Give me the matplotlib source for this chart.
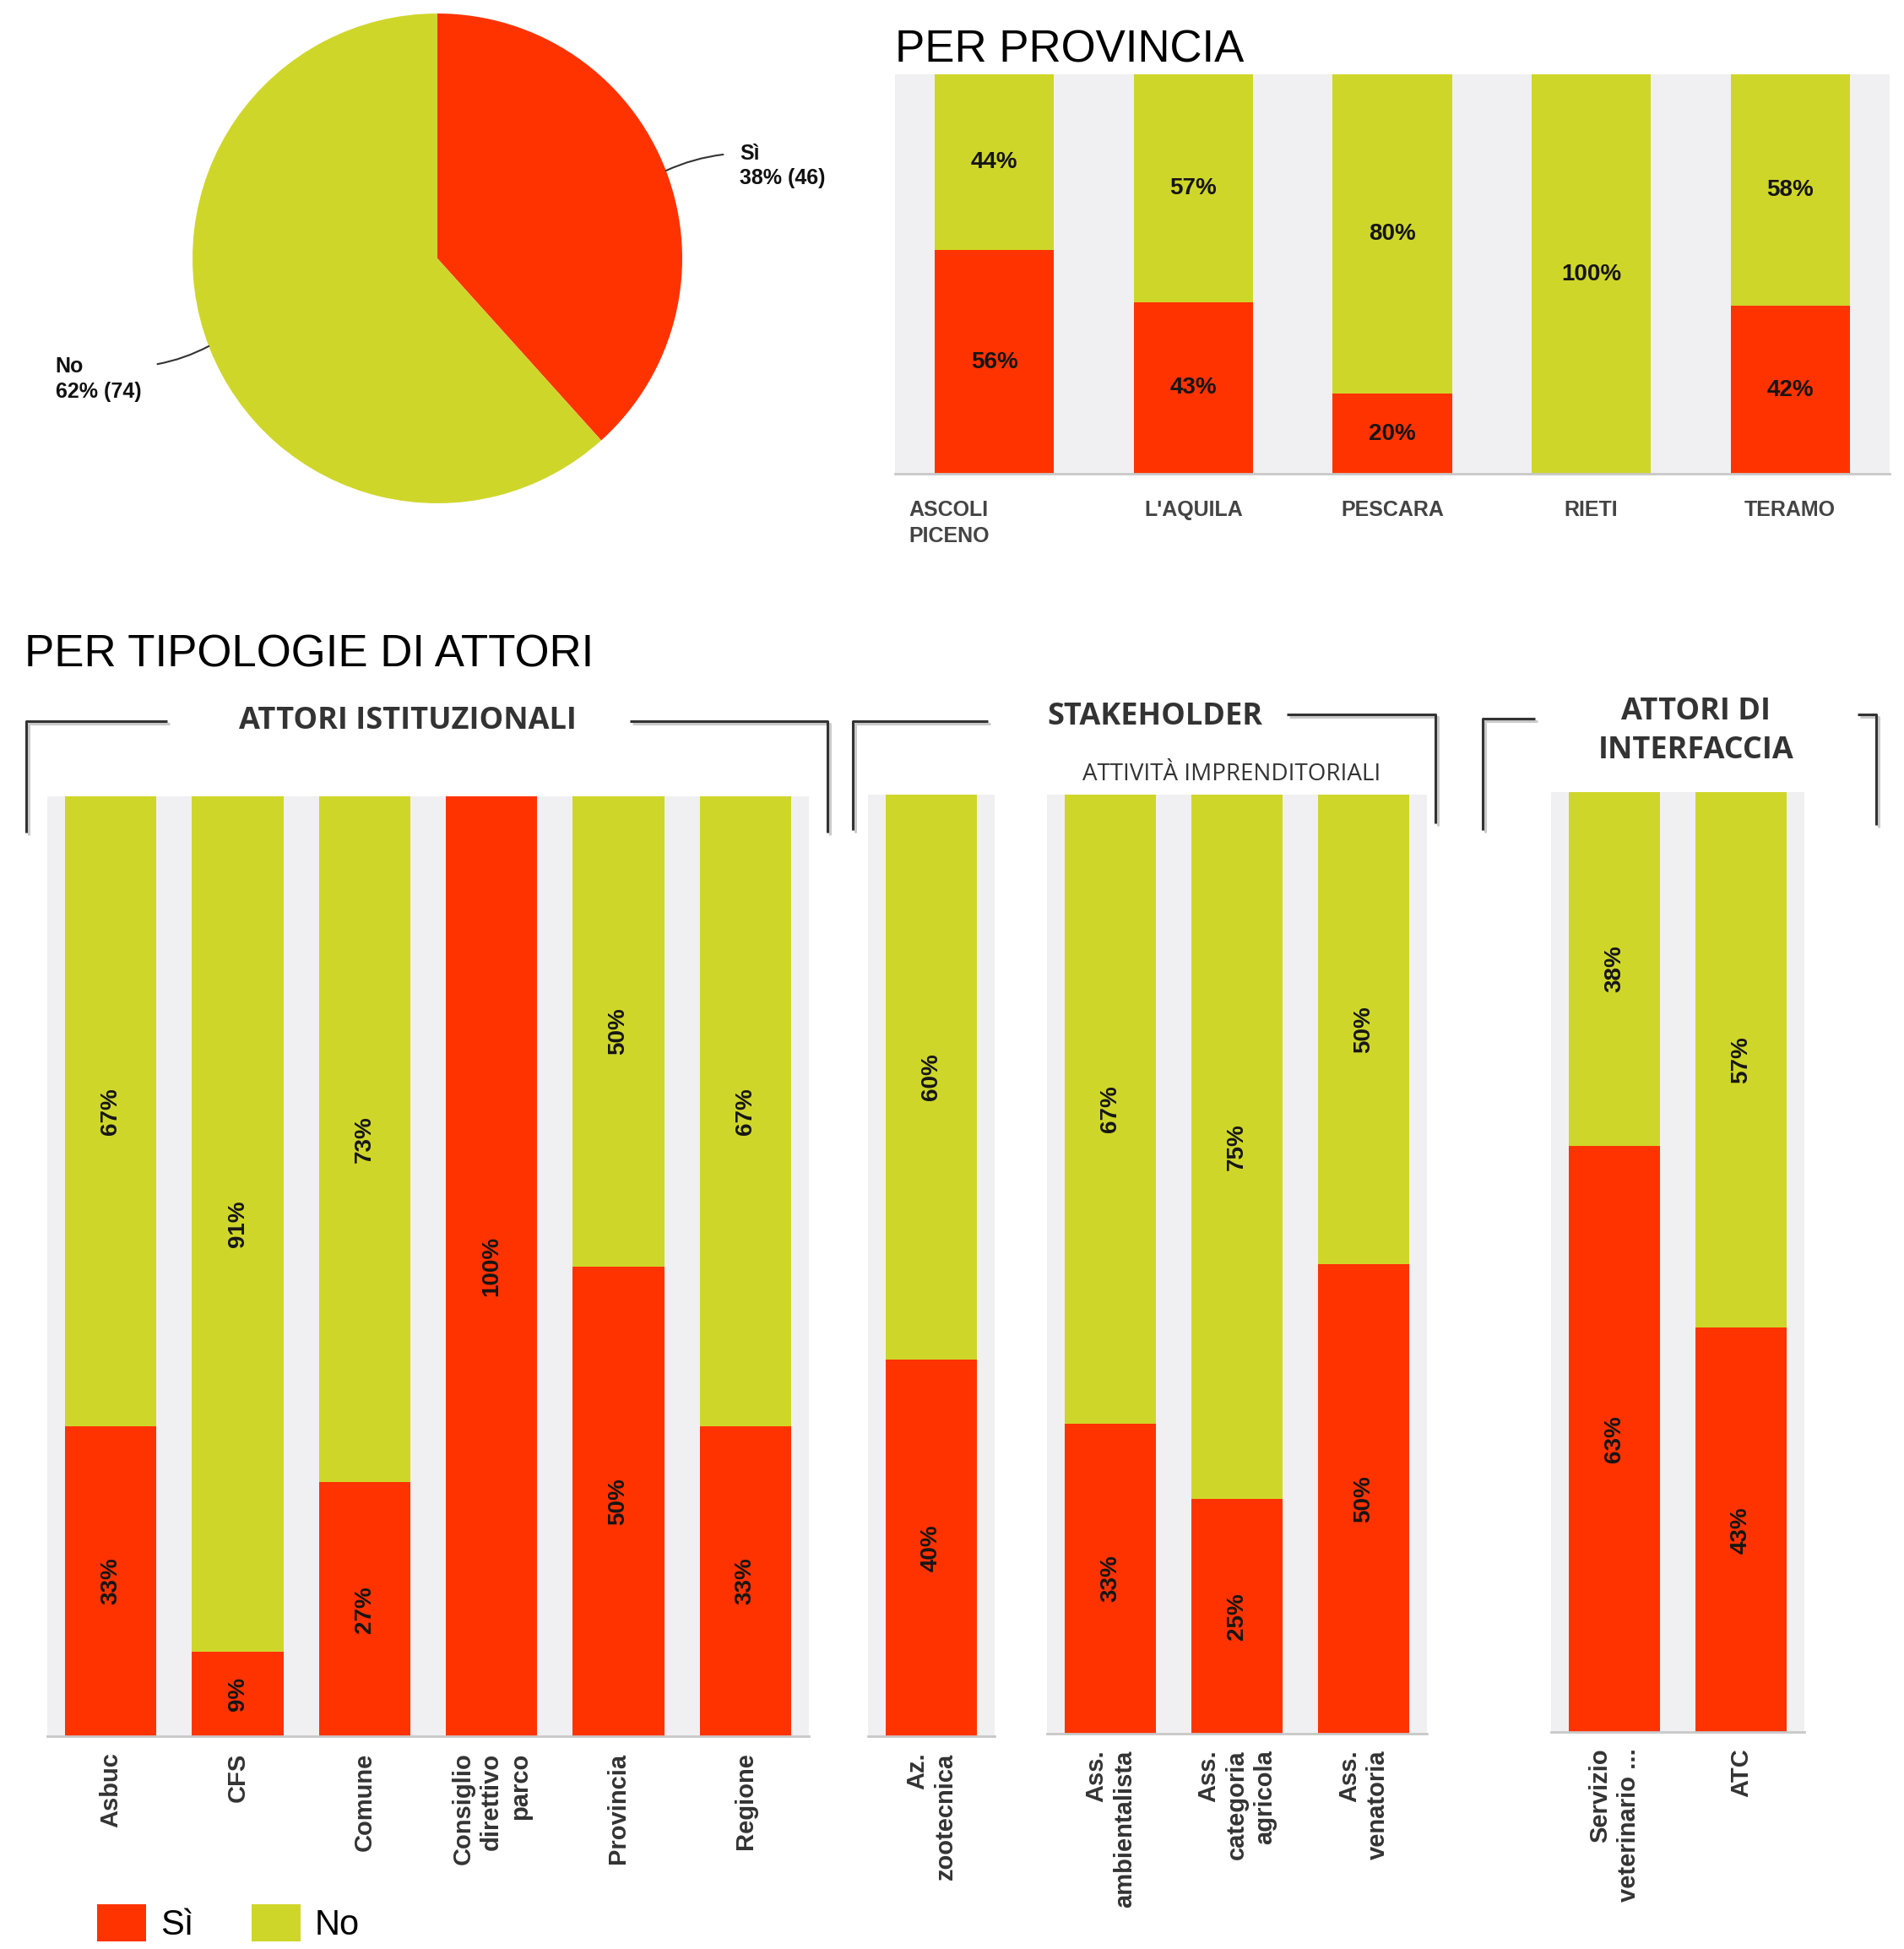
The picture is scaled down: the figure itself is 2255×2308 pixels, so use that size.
import math
import matplotlib.pyplot as plt
from matplotlib import font_manager
from matplotlib import patheffects as pe

ROSSO = "#ff3300"
GIALLO = "#cfd62a"
SFONDO = "#f0f0f2"
SCURO = "#333333"

installati = {f.name for f in font_manager.fontManager.ttflist}
STRETTO = "Liberation Sans Narrow" if "Liberation Sans Narrow" in installati else "Liberation Sans"

# --- dati ---
torta_etichette = ["Sì", "No"]
torta_conteggi = [46, 74]
torta_perc = [38, 62]

province = ["ASCOLI\nPICENO", "L'AQUILA", "PESCARA", "RIETI", "TERAMO"]
prov_si = [56, 43, 20, 0, 42]
prov_no = [44, 57, 80, 100, 58]

ist_etichette = ["Asbuc", "CFS", "Comune", "Consiglio\ndirettivo\nparco", "Provincia", "Regione"]
ist_si = [33, 9, 27, 100, 50, 33]
ist_no = [67, 91, 73, 0, 50, 67]

az_etichette = ["Az.\nzootecnica"]
az_si = [40]
az_no = [60]

ass_etichette = ["Ass.\nambientalista", "Ass.\ncategoria\nagricola", "Ass.\nvenatoria"]
ass_si = [33, 25, 50]
ass_no = [67, 75, 50]

int_etichette = ["Servizio\nveterinario ...", "ATC"]
int_si = [63, 43]
int_no = [38, 57]

W, H = 2255, 2308
fig = plt.figure(figsize=(W / 100, H / 100), dpi=100)


def riquadro(x0, y0, x1, y1):
    return [x0 / W, 1 - y1 / H, (x1 - x0) / W, (y1 - y0) / H]


def impila(ax, etichette, si, no, larghezza, fs, ruota):
    x = list(range(len(etichette)))
    tot = [a + b for a, b in zip(si, no)]
    q_si = [a / t for a, t in zip(si, tot)]
    q_no = [b / t for b, t in zip(no, tot)]
    b1 = ax.bar(x, q_si, larghezza, color=ROSSO, label="Sì")
    b2 = ax.bar(x, q_no, larghezza, bottom=q_si, color=GIALLO, label="No")
    stile = dict(label_type="center", fontsize=fs, fontweight="bold", family=STRETTO,
                 color="#151515", rotation=90 if ruota else 0)
    ax.bar_label(b1, labels=[f"{v}%" if v else "" for v in si], **stile)
    ax.bar_label(b2, labels=[f"{v}%" if v else "" for v in no], **stile)
    ax.set_facecolor(SFONDO)
    ax.set_xlim(-0.5, len(x) - 0.5)
    ax.set_ylim(0, 1)
    ax.set_yticks([])
    for s in ["top", "left", "right"]:
        ax.spines[s].set_visible(False)
    ax.spines["bottom"].set_color("#c8c8c8")
    ax.spines["bottom"].set_linewidth(2)
    return b1, b2


# --- tela di fondo per titoli e parentesi ---
tela = fig.add_axes([0, 0, 1, 1], zorder=-1)
tela.set_xlim(0, W)
tela.set_ylim(H, 0)
tela.axis("off")

tela.text(1060, 74, "PER PROVINCIA", fontsize=38, family="Liberation Sans", va="baseline")
tela.text(29, 790, "PER TIPOLOGIE DI ATTORI", fontsize=38, family="Liberation Sans", va="baseline")

ombra = [pe.SimpleLineShadow(offset=(2, -2), shadow_color="#999999", alpha=0.5), pe.Normal()]
parentesi = [
    ([31, 31, 198], [986, 854, 854]),
    ([746, 980, 980], [854, 854, 986]),
    ([1010, 1010, 1170], [983, 854, 854]),
    ([1524, 1700, 1700], [846, 846, 975]),
    ([1756, 1756, 1818], [983, 851, 851]),
    ([2200, 2222, 2222], [846, 846, 977]),
]
for xs, ys in parentesi:
    tela.plot(xs, ys, color=SCURO, lw=2.2, solid_capstyle="butt", path_effects=ombra)

intestazione = dict(fontsize=26, family="Open Sans", fontweight="bold", color=SCURO,
                    ha="center", va="center")
tela.text(483, 854, "ATTORI ISTITUZIONALI", **intestazione)
tela.text(1368, 849, "STAKEHOLDER", **intestazione)
tela.text(2009, 866, "ATTORI DI\nINTERFACCIA", linespacing=1.4, **intestazione)
tela.text(1459, 917, "ATTIVITÀ IMPRENDITORIALI", fontsize=20, family="Open Sans",
          color=SCURO, ha="center", va="center")

# --- torta ---
ax_t = fig.add_axes(riquadro(228, 16, 808, 596))
spicchi, _ = ax_t.pie(torta_conteggi, colors=[ROSSO, GIALLO], startangle=90, counterclock=False)
ax_t.set_xlim(-1, 1)
ax_t.set_ylim(-1, 1)
posizioni = [((1.234, 0.47), (0, 0.78)), ((-1.56, -0.40), (1, 0.78))]
for w, nome, p, n, (xy_t, rp) in zip(spicchi, torta_etichette, torta_perc, torta_conteggi, posizioni):
    a = math.radians((w.theta1 + w.theta2) / 2)
    ax_t.annotate(f"{nome}\n{p}% ({n})", xy=(math.cos(a), math.sin(a)), xytext=xy_t,
                  ha="left", va="top", fontsize=18, fontweight="bold", family=STRETTO, color="#111111",
                  linespacing=1.3,
                  arrowprops=dict(arrowstyle="-", color=SCURO, lw=1.5, relpos=rp,
                                  shrinkA=12, shrinkB=0, connectionstyle="arc3,rad=0.1"))

# --- per provincia ---
ax_p = fig.add_axes(riquadro(1060, 88, 2238, 561))
impila(ax_p, province, prov_si, prov_no, 0.6, 20, False)
ax_p.set_xticks([])
for i, nome in enumerate(province):
    if "\n" in nome:
        ax_p.text(i - 0.43, -0.065, nome, transform=ax_p.get_xaxis_transform(), ha="left", va="top",
                  fontsize=18, fontweight="bold", family=STRETTO, color="#444444", linespacing=1.4)
    else:
        ax_p.text(i, -0.065, nome, transform=ax_p.get_xaxis_transform(), ha="center", va="top",
                  fontsize=18, fontweight="bold", family=STRETTO, color="#444444")

# --- per tipologie di attori ---
pannelli = [
    ((56, 943, 958, 2056), ist_etichette, ist_si, ist_no),
    ((1028, 941, 1178, 2056), az_etichette, az_si, az_no),
    ((1240, 941, 1690, 2053), ass_etichette, ass_si, ass_no),
    ((1837, 938, 2137, 2051), int_etichette, int_si, int_no),
]
maniglie = None
for box, etich, si, no in pannelli:
    ax = fig.add_axes(riquadro(*box))
    barre = impila(ax, etich, si, no, 0.72, 20, True)
    if maniglie is None:
        maniglie = barre
    ax.set_xticks(range(len(etich)), etich)
    ax.tick_params(axis="x", length=0, pad=14)
    for lab in ax.get_xticklabels():
        lab.set_rotation(90)
        lab.set_multialignment("right")
        lab.set_fontsize(21)
        lab.set_fontweight("bold")
        lab.set_family(STRETTO)
        lab.set_color(SCURO)
        lab.set_linespacing(1.25)

fig.legend(maniglie, ["Sì", "No"], loc="lower left", bbox_to_anchor=(115 / W, 1 - 2300 / H),
           ncol=2, frameon=False, borderpad=0, borderaxespad=0, handlelength=1.4,
           handleheight=1.25, handletextpad=0.4, columnspacing=1.65,
           prop={"family": STRETTO, "size": 30})

fig.savefig("out.png", dpi=100)
plt.close(fig)
